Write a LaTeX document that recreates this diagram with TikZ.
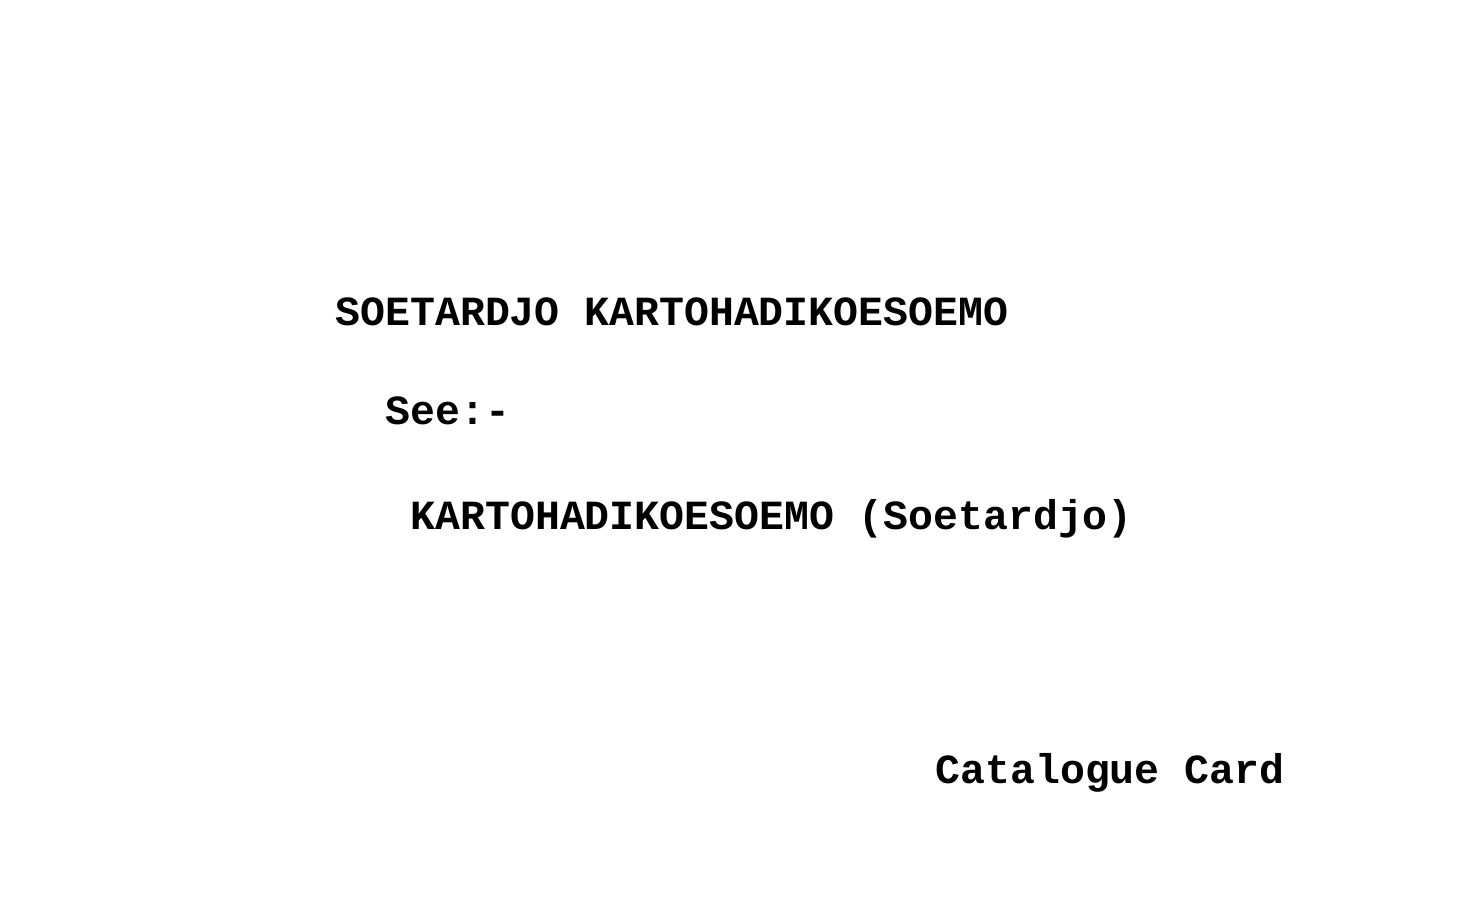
\documentclass[tikz,border=0pt]{standalone}
\usepackage{fontspec}
\newfontfamily\typew{Liberation Mono}
\begin{document}
\begin{tikzpicture}[x=0.01cm,y=-0.01cm,
  txt/.style={anchor=base west,inner sep=0pt,font=\typew\bfseries\fontsize{11.8pt}{14pt}\selectfont}]
\useasboundingbox (0,0) rectangle (1468,909);
\node[txt] (name) at (335,325) {SOETARDJO KARTOHADIKOESOEMO};
\node[txt] (see) at (385,425) {See:-};
\node[txt] (ref) at (410,530) {KARTOHADIKOESOEMO (Soetardjo)};
\node[txt] (card) at (935,783) {Catalogue Card};
\end{tikzpicture}
\end{document}
